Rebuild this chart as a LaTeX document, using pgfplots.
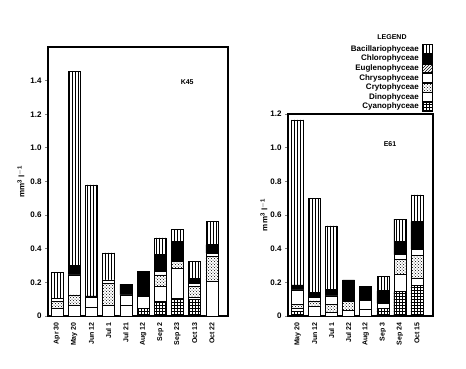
\documentclass[border=0pt]{standalone}
\usepackage{fontspec}
\setmainfont{Liberation Sans}
\usepackage{pgfplots}
\usepackage{pgfplotstable}
\pgfplotsset{compat=1.18}
\usetikzlibrary{patterns}

\pgfplotstableread{
x cyano dino crypto chryso eugl chloro bacill
0 0     0.045 0.04  0.02  0 0     0.155
1 0     0.065 0.06  0.12  0 0.055 1.155
2 0     0.05  0     0.06  0 0.01  0.66
3 0     0.065 0.13  0.02  0 0     0.16
4 0     0.065 0     0.06  0 0.065 0
5 0.045 0.07  0     0     0 0.15  0
6 0.085 0.09  0.07  0.02  0 0.1   0.1
7 0.105 0.18  0.04  0     0 0.12  0.07
8 0.1   0.012 0.063 0.02  0 0.03  0.1
9 0     0.204 0.15  0.02  0 0.05  0.14
}\kfs

\pgfplotstableread{
x cyano dino crypto chryso eugl chloro bacill
0 0.025 0.02  0.025 0.085 0 0.03  0.98
1 0     0.06  0.03  0.02  0 0.03  0.56
2 0     0.02  0.05  0.05  0 0.04  0.375
3 0     0.035 0.05  0     0 0.13  0
4 0     0.04  0     0.055 0 0.083 0
5 0.045 0.03  0     0     0 0.075 0.085
6 0.145 0.1   0.09  0.03  0 0.08  0.13
7 0.184 0.04  0.138 0.034 0 0.164 0.16
}\esi

\pgfplotsset{
  panel/.style={
    scale only axis,
    anchor=south west,
    ybar stacked,
    bar width=12pt,
    ymin=0,
    axis line style={line width=1.2pt},
    ytick pos=left,
    tick align=outside,
    ytick style={line width=0.8pt},
    major tick length=3pt,
    xtick=data,
    xtick style={draw=none},
    x tick label style={rotate=90, anchor=east, font=\scriptsize\bfseries},
    y tick label style={font=\footnotesize\bfseries},
    /pgf/number format/assume math mode=true,
    yticklabel={\ifdim\tick pt=0pt 0\else\pgfmathprintnumber[fixed,fixed zerofill,precision=1]{\tick}\fi},
    ylabel={\bfseries mm$^{\mathbf{3}}$ l$^{\mathbf{-1}}$},
    ylabel style={font=\footnotesize},
    every axis plot/.append style={draw=black, line width=0.6pt},
  },
}

\begin{document}
\begin{tikzpicture}
\useasboundingbox (0,0) rectangle (466pt,368pt);

\begin{axis}[panel,
  at={(48pt,52pt)}, width=180pt, height=269pt,
  xmin=-0.52, xmax=9.93, ymax=1.6,
  ytick={0,0.2,...,1.4},
  xticklabels={Apr 30,May 20,Jun 12,Jul 1,Jul 21,Aug 12,Sep 2,Sep 23,Oct 13,Oct 22},
  ylabel style={yshift=-1pt},
]
\addplot[fill=white, pattern=grid] table[x=x,y=cyano]{\kfs};
\addplot[fill=white] table[x=x,y=dino]{\kfs};
\addplot[pattern=crosshatch dots] table[x=x,y=crypto]{\kfs};
\addplot[fill=white] table[x=x,y=chryso]{\kfs};
\addplot[pattern=north east lines] table[x=x,y=eugl]{\kfs};
\addplot[fill=black] table[x=x,y=chloro]{\kfs};
\addplot[pattern=vertical lines] table[x=x,y=bacill]{\kfs};
\node[font=\scriptsize\bfseries] at (axis cs:7.56,1.39) {K45};
\end{axis}

\begin{axis}[panel,
  at={(288pt,52pt)}, width=145pt, height=202pt,
  xmin=-0.56, xmax=7.94, ymax=1.2,
  ytick={0,0.2,...,1.2},
  xticklabels={May 20,Jun 12,Jul 1,Jul 22,Aug 12,Sep 3,Sep 24,Oct 15},
  ylabel style={yshift=-4pt},
  reverse legend,
  legend plot pos=right,
  legend cell align=right,
  legend image code/.code={\draw[#1, line width=0.6pt] (0pt,-4.4pt) rectangle (10pt,4.4pt);},
  legend style={at={(1,1.008)}, anchor=south east, draw=none, fill=none,
    font=\footnotesize\bfseries, inner sep=0pt, outer sep=0pt, row sep=-1.7pt,
    /tikz/every odd column/.append style={column sep=1.5pt}},
]
\addplot[fill=white, pattern=grid] table[x=x,y=cyano]{\esi};
\addlegendentry{Cyanophyceae}
\addplot[fill=white] table[x=x,y=dino]{\esi};
\addlegendentry{Dinophyceae}
\addplot[pattern=crosshatch dots] table[x=x,y=crypto]{\esi};
\addlegendentry{Crytophyceae}
\addplot[fill=white] table[x=x,y=chryso]{\esi};
\addlegendentry{Chrysophyceae}
\addplot[pattern=north east lines] table[x=x,y=eugl]{\esi};
\addlegendentry{Euglenophyceae}
\addplot[fill=black] table[x=x,y=chloro]{\esi};
\addlegendentry{Chlorophyceae}
\addplot[pattern=vertical lines] table[x=x,y=bacill]{\esi};
\addlegendentry{Bacillariophyceae}
\node[font=\scriptsize\bfseries] at (axis cs:5.42,1.02) {E61};
\end{axis}

\node[font=\scriptsize\bfseries] at (392pt,331pt) {LEGEND};
\end{tikzpicture}
\end{document}
